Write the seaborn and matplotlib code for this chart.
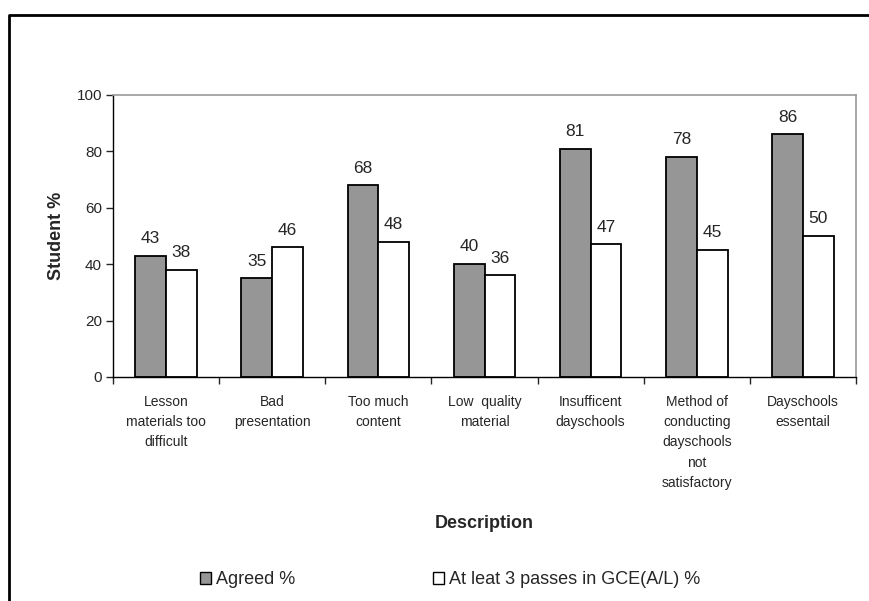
import numpy as np
import pandas as pd
import matplotlib
matplotlib.use("Agg")
import matplotlib.pyplot as plt
import seaborn as sns
from matplotlib.lines import Line2D
from matplotlib.patches import Patch

categories = ["Lesson\nmaterials too\ndifficult", "Bad\npresentation", "Too much\ncontent",
              "Low  quality\nmaterial", "Insufficent\ndayschools",
              "Method of\nconducting\ndayschools\nnot\nsatisfactory", "Dayschools\nessentail"]
agreed = [43, 35, 68, 40, 81, 78, 86]
passes = [38, 46, 48, 36, 47, 45, 50]
series = ["Agreed %", "At leat 3 passes in GCE(A/L) %"]

df = pd.DataFrame({
    "Description": categories * 2,
    "value": agreed + passes,
    "series": [series[0]] * len(categories) + [series[1]] * len(categories),
})

sns.set_style("white")
plt.rcParams["font.family"] = ["Liberation Sans", "DejaVu Sans"]

fig = plt.figure(figsize=(8.69, 6.01), dpi=100)
ax = fig.add_axes([113 / 869, 1 - 377 / 601, (856 - 113) / 869, (377 - 95) / 601])

sns.barplot(data=df, x="Description", y="value", hue="series", hue_order=series,
            palette=["#969696", "white"], width=0.58, edgecolor="black", linewidth=1.3,
            legend=False, ax=ax)

# value labels
for cont in ax.containers:
    ax.bar_label(cont, padding=7, fontsize=12.5)

ax.set_ylim(0, 100)
ax.set_xlim(-0.5, len(categories) - 0.5)
ax.set_yticks(np.arange(0, 101, 20))
ax.tick_params(axis="y", labelsize=11, length=5, width=1, direction="out", left=True, pad=3)
ax.set_xticks(range(len(categories)))
ax.set_xticklabels(categories, fontsize=10, linespacing=1.56, va="top")
ax.tick_params(axis="x", which="major", length=0, pad=13)
ax.set_xticks(np.arange(-0.5, len(categories), 1), minor=True)
ax.tick_params(axis="x", which="minor", length=5, width=1, direction="out", bottom=True)

for side in ["top", "right"]:
    ax.spines[side].set_color("#999999")
    ax.spines[side].set_linewidth(1.2)
for side in ["left", "bottom"]:
    ax.spines[side].set_color("black")
    ax.spines[side].set_linewidth(1)

ax.set_xlabel("Description", fontsize=13, fontweight="bold", labelpad=18)
ax.set_ylabel("Student %", fontsize=13, fontweight="bold", labelpad=8)

handles = [Patch(facecolor="#969696", edgecolor="black", linewidth=1),
           Patch(facecolor="white", edgecolor="black", linewidth=1)]
fig.legend(handles, series, loc="center left", bbox_to_anchor=(184 / 869, 1 - 580 / 601), ncol=2,
           frameon=False, fontsize=13, handlelength=0.6, handleheight=0.6,
           handletextpad=0.3, columnspacing=7.6)

# outer chart border (left and top)
fig.add_artist(Line2D([9 / 869, 9 / 869, 1.0], [0.0, 1 - 15 / 601, 1 - 15 / 601],
                      transform=fig.transFigure, color="black", linewidth=2))

fig.savefig("out.png", dpi=100)
